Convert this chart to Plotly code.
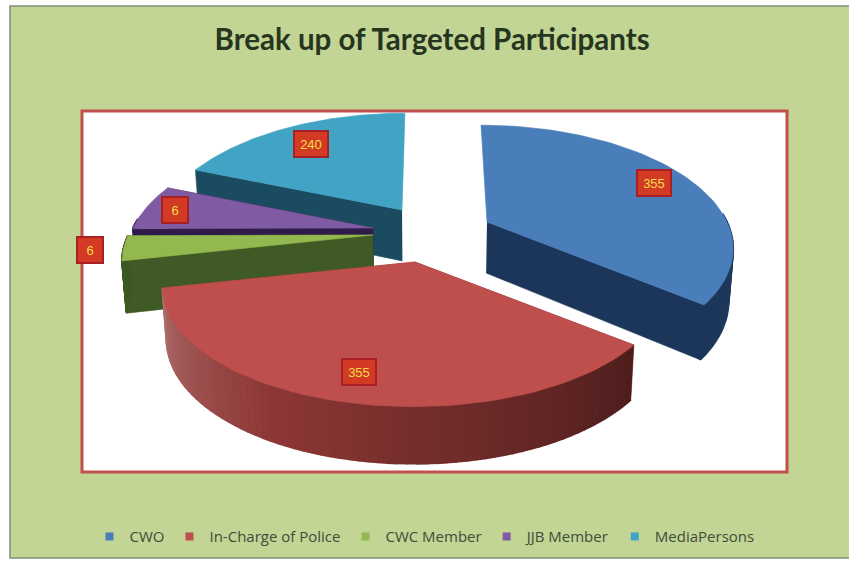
import numpy as np
import plotly.graph_objects as go

categories = ["CWO", "In-Charge of Police", "CWC Member", "JJB Member", "MediaPersons"]
slice_values = [355, 355, 33, 61, 188]
value_labels = ["355", "355", "6", "6", "240"]

top_colors = ["#4A7EBB", "#BE4F4C", "#93B84F", "#7F5BA3", "#42A4C4"]
wall_colors = ["#1B365A", "#8E3836", "#3F5A24", "#2E1B4C", "#1A4B60"]
apex_x = [487, 415, 373, 373, 402]
apex_y = [222, 262, 235, 228, 210]
x_scale = [1.0, 1.03, 1.02, 1.0, 1.0]
label_radius = [0.84, 0.82, 1.13, 0.87, 0.78]
draw_order = [4, 3, 2, 0, 1]

RX, A, B, LEAN, CX = 240, 116, 0.198, 0.105, 430


def project(i, r, theta):
    X, Y = r * np.sin(theta), -r * np.cos(theta)
    d = 1 - B * Y
    return (apex_x[i] + RX * x_scale[i] * X / d + (apex_x[i] - CX) * LEAN * Y,
            apex_y[i] + A * Y / d)


def drop(x, y, Y):
    depth = 51 + 6 * Y
    return CX + (x - CX) * 0.985, y + depth


def mix(c, f):
    r, g, b = [int(c[k:k + 2], 16) for k in (1, 3, 5)]
    if f <= 1:
        return f"rgb({int(r*f)},{int(g*f)},{int(b*f)})"
    f -= 1
    return f"rgb({int(r+(255-r)*f)},{int(g+(255-g)*f)},{int(b+(255-b)*f)})"


fig = go.Figure()


def poly(xs, ys, color, lw=0.6):
    fig.add_trace(go.Scatter(x=list(xs), y=list(ys), mode="lines", fill="toself",
                             fillcolor=color, line=dict(color=color, width=lw),
                             hoverinfo="skip", showlegend=False))


total = sum(slice_values)
edges = np.concatenate([[0], np.cumsum(slice_values)]) / total * 2 * np.pi

for i in draw_order:
    t0, t1 = edges[i], edges[i + 1]
    ts = np.linspace(t0, t1, 70)
    ax, ay = apex_x[i], apex_y[i]
    # radial wall on the near side of the slice
    for t in ((t1,) if i == 0 else (t0,) if i == 4 else (t0, t1)):
        ex, ey = project(i, 1, t)
        bx, by = drop(ex, ey, -np.cos(t))
        a2x, a2y = drop(ax, ay, 0)
        poly([ax, ex, bx, a2x], [ay, ey, by, a2y], wall_colors[i])
    # outer wall, in narrow strips so it can shade along the arc
    for k in range(len(ts) - 1):
        if -np.cos(ts[k]) < -0.08 or -np.cos(ts[k + 1]) < -0.08:
            continue  # faces away from the viewer
        x0, y0 = project(i, 1, ts[k])
        x1, y1 = project(i, 1, ts[k + 1])
        bx0, by0 = drop(x0, y0, -np.cos(ts[k]))
        bx1, by1 = drop(x1, y1, -np.cos(ts[k + 1]))
        if i == 1:
            f = 0.55 + 0.72 * k / (len(ts) - 2)
        elif i == 0:
            f = 1.0 + 0.12 * (1 - k / (len(ts) - 2))
        else:
            f = 1.0
        poly([x0, x1, bx1, bx0], [y0, y1, by1, by0], mix(wall_colors[i], f), lw=2)
    # top face
    px, py = project(i, 1, ts)
    poly([ax, *px, ax], [ay, *py, ay], top_colors[i])

# legend entries
for name, col in zip(categories, top_colors):
    fig.add_trace(go.Scatter(x=[None], y=[None], mode="markers", name=name,
                             marker=dict(symbol="square", size=8, color=col)))

# value labels
for i in range(len(categories)):
    mid = (edges[i] + edges[i + 1]) / 2
    lx, ly = project(i, label_radius[i], mid)
    fig.add_annotation(x=lx, y=ly, text=value_labels[i], showarrow=False,
                       font=dict(family="Liberation Sans", size=13, color="#F4DC4A"),
                       bgcolor="#D23A24", bordercolor="#A81F26", borderwidth=2,
                       borderpad=3, width=26 if len(value_labels[i]) > 1 else 18,
                       height=18)

fig.update_layout(
    width=849, height=562, margin=dict(l=0, r=0, t=0, b=0),
    paper_bgcolor="#FFFFFF", plot_bgcolor="#FFFFFF",
    xaxis=dict(visible=False, range=[0, 849], fixedrange=True),
    yaxis=dict(visible=False, range=[562, 0], fixedrange=True),
    title=dict(text="<b>Break up of Targeted Participants</b>", x=0.509, xanchor="center",
               y=0.93, yanchor="middle",
               font=dict(family="Lato", size=29.5, color="#27351F")),
    legend=dict(orientation="h", x=0.5, xanchor="center", y=0.045, yanchor="middle",
                bgcolor="rgba(0,0,0,0)", itemwidth=30,
                font=dict(family="Open Sans", size=15, color="#3F4D3A")),
    shapes=[
        dict(type="rect", layer="below", x0=10, x1=860, y0=6, y1=558,
             fillcolor="#C2D595", line=dict(color="#7F8F7A", width=1.5)),
        dict(type="rect", layer="below", x0=82, x1=787, y0=111, y1=472,
             fillcolor="#FFFFFF", line=dict(color="#C0504D", width=3)),
    ],
)
fig.write_html("out.html", config={"displayModeBar": False},
               post_script="document.body.style.margin='0';document.body.style.overflow='hidden';")
